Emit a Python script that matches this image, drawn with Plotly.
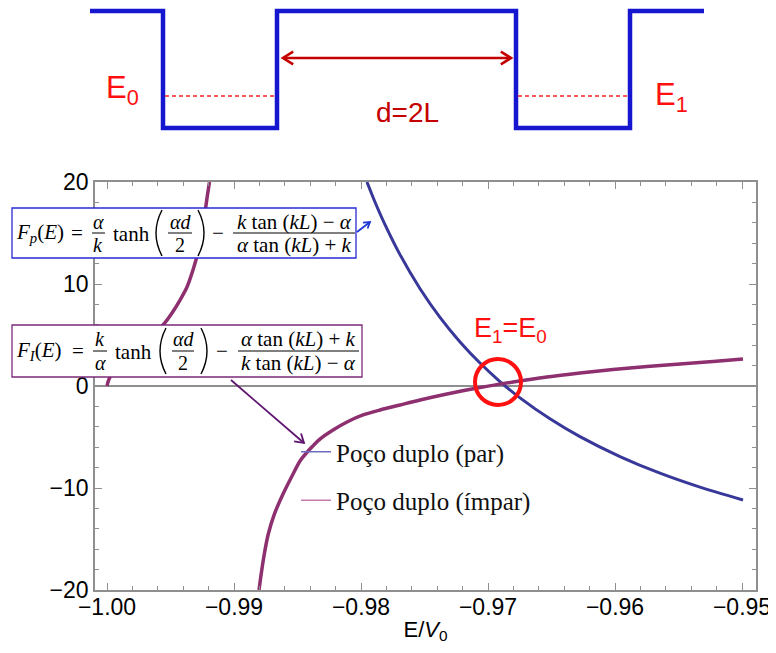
import math
import plotly.graph_objects as go

# ---------------- data ----------------
E_par = [-0.97953, -0.97890, -0.97811, -0.97693, -0.97535, -0.97378, -0.97220, -0.97063,
         -0.96906, -0.96748, -0.96512, -0.96276, -0.95961, -0.95646, -0.95331, -0.94992]
F_par = [20.0, 18.04, 15.82, 12.88, 9.54, 6.73, 4.32, 2.25,
         0.44, -1.16, -3.22, -4.97, -6.92, -8.55, -9.92, -11.18]

E_impar_left = [-1.00000, -0.99992, -0.99976, -0.99937, -0.99858, -0.99740, -0.99646, -0.99559,
                -0.99488, -0.99425, -0.99370, -0.99323, -0.99283, -0.99252, -0.99228, -0.99209, -0.99193]
F_impar_left = [0.0, 0.39, 0.88, 1.57, 2.55, 3.82, 4.90, 5.98,
                7.16, 8.43, 9.71, 11.37, 13.14, 15.10, 17.06, 18.73, 20.0]

E_impar_right = [-0.98803, -0.98787, -0.98764, -0.98732, -0.98685, -0.98614, -0.98543, -0.98480,
                 -0.98402, -0.98323, -0.98220, -0.98110, -0.97984, -0.97850, -0.97693, -0.97535,
                 -0.97323, -0.97063, -0.96803, -0.96535, -0.96276, -0.96016, -0.95748, -0.95488,
                 -0.95228, -0.94992]
F_impar_right = [-20.0, -18.53, -16.67, -14.61, -12.65, -10.59, -8.82, -7.35,
                 -6.18, -5.20, -4.31, -3.53, -2.84, -2.35, -1.86, -1.37,
                 -0.78, -0.15, 0.39, 0.88, 1.27, 1.62, 1.91, 2.16,
                 2.40, 2.65]

series_names = ["Poço duplo (par)", "Poço duplo (ímpar)"]
x_ticks = [-1.00, -0.99, -0.98, -0.97, -0.96, -0.95]
y_ticks = [-20, -10, 0, 10, 20]

# schematic double-well profile (overlay pixel units)
well_x = [90, 163, 163, 277, 277, 516, 516, 630, 630, 704]
well_y = [11, 11, 128, 128, 11, 11, 128, 128, 11, 11]

# ---------------- styling ----------------
BLUE_C = "#38389a"
PURP_C = "#8e2f70"
AXC = "#8f8f8f"
SANS = "Liberation Sans, Arial, sans-serif"
SERIF = "Liberation Serif, Times New Roman, serif"
OFF = 8                      # page body offset
W, H = 776 - OFF, 653 - OFF
ML, MR, MT, MB = 0, 20, 0, 63
PW, PH = W - ML - MR, H - MT - MB   # 748 x 582
# overlay axis in screen pixels: paper spans [OFF, OFF+PW] x [OFF, OFF+PH]
X0, X1 = OFF, OFF + PW
Y0, Y1 = OFF, OFF + PH

fig = go.Figure()

fig.add_trace(go.Scatter(x=E_par, y=F_par, mode="lines", name=series_names[0], showlegend=False,
                         line=dict(color=BLUE_C, width=3, shape="spline", smoothing=0.8),
                         xaxis="x", yaxis="y"))
fig.add_trace(go.Scatter(x=E_impar_left + [None] + E_impar_right,
                         y=F_impar_left + [None] + F_impar_right,
                         mode="lines", name=series_names[1], showlegend=False, connectgaps=False,
                         line=dict(color=PURP_C, width=3.5, shape="spline", smoothing=0.8),
                         xaxis="x", yaxis="y"))
# legend entries (thin sample lines as in the original legend)
fig.add_trace(go.Scatter(x=[None], y=[None], mode="lines", name=series_names[0], legendgroup="a",
                         line=dict(color="#6c6cc0", width=1.5), xaxis="x", yaxis="y"))
fig.add_trace(go.Scatter(x=[None], y=[None], mode="lines", name=series_names[1], legendgroup="b",
                         line=dict(color="#c878a6", width=1.5), xaxis="x", yaxis="y"))
# well diagram on the overlay axes
fig.add_trace(go.Scatter(x=well_x, y=well_y, mode="lines", showlegend=False, hoverinfo="skip",
                         line=dict(color="#1616d0", width=4.5), xaxis="x2", yaxis="y2"))

annotations = []
shapes = []


def txt(x, y, text, size, color="black", family=SERIF, xanchor="center"):
    annotations.append(dict(x=x, y=y, xref="x2", yref="y2", text=text, showarrow=False,
                            xanchor=xanchor, yanchor="middle",
                            font=dict(family=family, size=size, color=color)))


def seg(x0, y0, x1, y1, color="black", width=1.0, dash="solid"):
    shapes.append(dict(type="line", xref="x2", yref="y2", x0=x0, y0=y0, x1=x1, y1=y1,
                       line=dict(color=color, width=width, dash=dash), layer="above"))


def path(p, color="black", width=1.4):
    shapes.append(dict(type="path", xref="x2", yref="y2", path=p,
                       line=dict(color=color, width=width), layer="above"))


def head(xt, yt, xf, yf, color, width, hl=9, ang=32):
    a = math.atan2(yf - yt, xf - xt)
    pts = []
    for s in (1, -1):
        b = a + s * math.radians(ang)
        pts.append((xt + hl * math.cos(b), yt + hl * math.sin(b)))
    path("M %.2f,%.2f L %.2f,%.2f L %.2f,%.2f" % (pts[0][0], pts[0][1], xt, yt, pts[1][0], pts[1][1]),
         color=color, width=width)


def arrow(x0, y0, x1, y1, color, width, both=False, hl=9):
    seg(x0, y0, x1, y1, color=color, width=width)
    head(x1, y1, x0, y0, color, width, hl)
    if both:
        head(x0, y0, x1, y1, color, width, hl)


# ---------- top diagram ----------
seg(165, 96, 277, 96, color="#ff2020", width=1.3, dash="4px,3px")
seg(518, 96, 630, 96, color="#ff2020", width=1.3, dash="4px,3px")
arrow(283, 58, 511, 58, "#c40000", 2.6, both=True, hl=12)
txt(104, 90, "E<sub>0</sub>", 31, color="#ff1010", family=SANS, xanchor="left")
txt(653, 97, "E<sub>1</sub>", 31, color="#ff1010", family=SANS, xanchor="left")
txt(407, 112, "d=2L", 28, color="#c40000", family=SANS)

# ---------- formula box 1 (par) ----------
c1 = 233
shapes.append(dict(type="rect", xref="x2", yref="y2", x0=12, x1=356, y0=208, y1=258,
                   line=dict(color="#2a2ad8", width=1.3), fillcolor="white", layer="above"))
txt(14, c1, "<i>F</i><sub><i>p</i></sub>(<i>E</i>)", 21, xanchor="left")
txt(77, c1, "=", 21)
txt(98, c1 - 11, "<i>α</i>", 20)
seg(92, c1, 105, c1)
txt(98, c1 + 12, "<i>k</i>", 20)
txt(111, c1 + 1, "tanh", 21, xanchor="left")
path("M 162,210 Q 150,233 162,256")
txt(180, c1 - 11, "<i>αd</i>", 20)
seg(168, c1, 192, c1)
txt(180, c1 + 12, "2", 20)
path("M 198,210 Q 210,233 198,256")
txt(218, c1, "−", 21)
txt(294, c1 - 11, "<i>k</i> tan (<i>kL</i>) − <i>α</i>", 21)
seg(233, c1, 355, c1)
txt(294, c1 + 12, "<i>α</i> tan (<i>kL</i>) + <i>k</i>", 21)
arrow(357, 232, 370, 222, "#1f3ad2", 1.8, hl=7)

# ---------- formula box 2 (impar) ----------
c2 = 351
shapes.append(dict(type="rect", xref="x2", yref="y2", x0=12, x1=362, y0=325, y1=377,
                   line=dict(color="#7b2a7b", width=1.3), fillcolor="white", layer="above"))
txt(14, c2, "<i>F</i><sub><i>I</i></sub>(<i>E</i>)", 21, xanchor="left")
txt(78, c2, "=", 21)
txt(100, c2 - 12, "<i>k</i>", 20)
seg(93, c2, 107, c2)
txt(100, c2 + 12, "<i>α</i>", 20)
txt(113, c2 + 1, "tanh", 21, xanchor="left")
path("M 166,328 Q 154,351 166,374")
txt(183, c2 - 12, "<i>αd</i>", 20)
seg(172, c2, 194, c2)
txt(183, c2 + 12, "2", 20)
path("M 201,328 Q 213,351 201,374")
txt(222, c2, "−", 21)
txt(298, c2 - 12, "<i>α</i> tan (<i>kL</i>) + <i>k</i>", 21)
seg(238, c2, 359, c2)
txt(298, c2 + 12, "<i>k</i> tan (<i>kL</i>) − <i>α</i>", 21)
arrow(231, 380, 304, 443, "#5e1470", 1.8, hl=10)

# ---------- crossing highlight ----------
shapes.append(dict(type="circle", xref="x2", yref="y2", x0=475, x1=521, y0=359, y1=405,
                   line=dict(color="#ff1010", width=4), layer="above"))
txt(472, 330, "E<sub>1</sub>=E<sub>0</sub>", 27, color="#ff1010", family=SANS, xanchor="left")

x_dom0 = (95 - X0) / PW
y_dom1 = (590 - 182) / PH

fig.update_layout(
    template="none",
    width=W, height=H, autosize=False,
    margin=dict(l=ML, r=MR, t=MT, b=MB, pad=0, autoexpand=False),
    paper_bgcolor="white", plot_bgcolor="rgba(0,0,0,0)",
    showlegend=True,
    legend=dict(x=(296 - X0) / PW, y=(Y1 - 429) / PH, xanchor="left", yanchor="top",
                font=dict(family=SERIF, size=25, color="#111111"),
                bgcolor="rgba(0,0,0,0)", borderwidth=0, tracegroupgap=13, itemwidth=30),
    xaxis=dict(domain=[x_dom0, 1], range=[-1.000945, -0.948898], anchor="y", automargin=False,
               tickmode="array", tickvals=x_ticks, tickformat=".2f",
               ticks="inside", ticklen=7, tickwidth=1.2, tickcolor=AXC, ticklabelstandoff=-4,
               minor=dict(dtick=0.002, tick0=-1.0, ticks="inside", ticklen=4, tickwidth=1, tickcolor=AXC),
               showline=True, linecolor=AXC, linewidth=1.6, mirror="ticks",
               showgrid=False, zeroline=False,
               tickfont=dict(family=SANS, size=23, color="black"),
               title=dict(text="E/<i>V</i><sub>0</sub>", font=dict(family=SANS, size=22, color="black"),
                          standoff=2)),
    yaxis=dict(domain=[0, y_dom1], range=[-20, 20], anchor="x", automargin=False,
               tickmode="array", tickvals=y_ticks,
               ticks="inside", ticklen=7, tickwidth=1.2, tickcolor=AXC,
               minor=dict(dtick=2, tick0=0, ticks="inside", ticklen=4, tickwidth=1, tickcolor=AXC),
               showline=True, linecolor=AXC, linewidth=1.6, mirror="ticks",
               showgrid=False, zeroline=True, zerolinecolor=AXC, zerolinewidth=1.6,
               tickfont=dict(family=SANS, size=23, color="black")),
    xaxis2=dict(domain=[0, 1], range=[X0, X1], anchor="y2", visible=False, fixedrange=True, automargin=False),
    yaxis2=dict(domain=[0, 1], range=[Y1, Y0], anchor="x2", visible=False, fixedrange=True, automargin=False),
    annotations=annotations,
    shapes=shapes,
)

fig.write_html("out.html")
